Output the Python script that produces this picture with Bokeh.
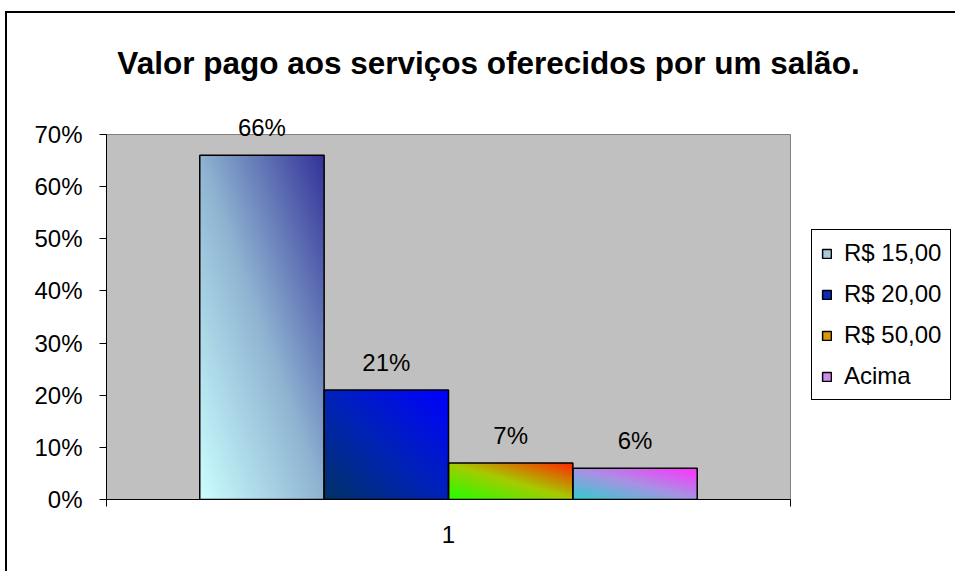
import numpy as np
from bokeh.plotting import figure
from bokeh.core.properties import value
from bokeh.models import (ColumnDataSource, Range1d, FixedTicker, NumeralTickFormatter,
                          Label, LabelSet, Legend, LegendItem)
from bokeh.embed import file_html
from bokeh.resources import INLINE

# ---- data ----
title_text = "Valor pago aos serviços oferecidos por um salão."
categories = ["R$ 15,00", "R$ 20,00", "R$ 50,00", "Acima"]
values = [0.66, 0.21, 0.07, 0.06]
value_labels = ["66%", "21%", "7%", "6%"]
x_tick_label = "1"
y_ticks = [0.0, 0.1, 0.2, 0.3, 0.4, 0.5, 0.6, 0.7]
y_max = 0.7

# gradient stops, from bottom-left corner to top-right corner of each bar
gradients = [
    ["#ccffff", "#8fb4d2", "#333399"],
    ["#003366", "#0022bb", "#0000ff"],
    ["#22ff00", "#a6cc00", "#ff2a00"],
    ["#33cccc", "#a892e4", "#ff33ff"],
]
legend_colors = ["#a9c8dc", "#0a2ab8", "#d99a00", "#d08ae8"]

FONT = "Liberation Sans"
FS = "24px"

# ---- layout (pixels) ----
W, H = 957, 573
MARGIN_LEFT, MARGIN_TOP = 7, 13
AREA_LEFT, AREA_RIGHT, AREA_TOP, AREA_BOTTOM = 106, 790, 134, 499   # plot-area edges on page
fig_w = W - MARGIN_LEFT
fig_h = H - MARGIN_TOP
b_left = AREA_LEFT - MARGIN_LEFT
b_bottom = H - AREA_BOTTOM
frame_w = fig_w - b_left
frame_h = fig_h - b_bottom
px_x = (AREA_RIGHT - AREA_LEFT) / 1.0
px_y = (AREA_BOTTOM - AREA_TOP) / y_max

p = figure(width=fig_w, height=fig_h, output_backend="svg", toolbar_location=None,
           x_range=Range1d(0, frame_w / px_x), y_range=Range1d(0, frame_h / px_y),
           min_border_left=b_left, min_border_right=0, min_border_top=0,
           min_border_bottom=b_bottom)
p.margin = (MARGIN_TOP, 0, 0, MARGIN_LEFT)
p.styles = {"box-shadow": "-2px -2px 0px 0px black"}
p.background_fill_color = "white"
p.border_fill_color = "white"
p.outline_line_color = None
p.xgrid.visible = False
p.ygrid.visible = False

# plot area
p.quad(left=[0], right=[1], bottom=[0], top=[y_max], fill_color="#c0c0c0",
       line_color="#808080", line_width=1)

# bar geometry: one category, 4 series, gap width 150%
n = len(values)
bar_w = 1.0 / (n + 1.5)
start = 0.75 * bar_w
lefts = [start + i * bar_w for i in range(n)]
rights = [l + bar_w for l in lefts]
centers = [l + bar_w / 2 for l in lefts]


def hex_to_rgb(h):
    h = h.lstrip("#")
    return np.array([int(h[i:i + 2], 16) for i in (0, 2, 4)], dtype=float)


def gradient_image(stops, nx, ny):
    u = np.linspace(0, 1, nx)[None, :]
    v = np.linspace(0, 1, ny)[:, None]
    t = (u + v) / 2.0
    cols = np.array([hex_to_rgb(s) for s in stops])
    pos = np.linspace(0, 1, len(stops))
    rgb = np.zeros((ny, nx, 3))
    for c in range(3):
        rgb[..., c] = np.interp(t, pos, cols[:, c])
    img = np.empty((ny, nx), dtype=np.uint32)
    view = img.view(dtype=np.uint8).reshape((ny, nx, 4))
    view[..., 0] = rgb[..., 0].astype(np.uint8)
    view[..., 1] = rgb[..., 1].astype(np.uint8)
    view[..., 2] = rgb[..., 2].astype(np.uint8)
    view[..., 3] = 255
    return img


for i in range(n):
    ny = max(8, int(values[i] * px_y))
    img = gradient_image(gradients[i], int(bar_w * px_x), ny)
    p.image_rgba(image=[img], x=lefts[i], y=0, dw=bar_w, dh=values[i])

src = ColumnDataSource(dict(left=lefts, right=rights, top=values, bottom=[0] * n,
                            x=centers, lab=value_labels))
p.quad(left="left", right="right", top="top", bottom="bottom", source=src,
       fill_color=None, line_color="black", line_width=1.5)

labels = LabelSet(x="x", y="top", text="lab", source=src, text_align="center",
                  text_baseline="alphabetic", y_offset=19, text_font=value(FONT),
                  text_font_size=FS, text_color="black")
p.add_layout(labels)

# legend with proxy renderers (not drawn in the plot: NaN coordinates)
items = []
for i in range(n):
    r = p.quad(left=[np.nan], right=[np.nan], top=[np.nan], bottom=[np.nan],
               fill_color=legend_colors[i], line_color="black", line_width=1.5)
    items.append(LegendItem(label=categories[i], renderers=[r]))
legend = Legend(items=items, location=(811 - AREA_LEFT, AREA_BOTTOM - 400),
                border_line_color="black", border_line_width=1.5, border_line_alpha=1,
                background_fill_color="white", background_fill_alpha=1,
                label_text_font=FONT, label_text_font_size=FS, label_text_color="black",
                glyph_width=11, glyph_height=11, label_standoff=12, padding=9,
                spacing=13, margin=0, label_height=20)
p.add_layout(legend, "center")

# title
p.add_layout(Label(x=(488 - AREA_LEFT) / px_x, y=(AREA_BOTTOM - 62) / px_y, text=title_text,
                   text_align="center", text_baseline="alphabetic", text_font=FONT,
                   text_font_style="bold", text_font_size="31.5px", text_color="black"))

# axes
p.yaxis.ticker = FixedTicker(ticks=y_ticks)
p.yaxis.formatter = NumeralTickFormatter(format="0%")
p.yaxis.bounds = (0, y_max)
p.yaxis.major_label_text_font = FONT
p.yaxis.major_label_text_font_size = FS
p.yaxis.major_label_text_color = "black"
p.yaxis.major_tick_out = 7
p.yaxis.major_tick_in = 0
p.yaxis.minor_tick_out = 0
p.yaxis.minor_tick_in = 0
p.yaxis.axis_line_color = "black"
p.yaxis.major_tick_line_color = "black"
p.yaxis.major_label_standoff = 17

p.xaxis.ticker = FixedTicker(ticks=[0.5], minor_ticks=[0.0, 1.0])
p.xaxis.bounds = (0, 1)
p.xaxis.major_label_overrides = {0.5: x_tick_label}
p.xaxis.major_label_text_font = FONT
p.xaxis.major_label_text_font_size = FS
p.xaxis.major_label_text_color = "black"
p.xaxis.major_tick_out = 0
p.xaxis.major_tick_in = 0
p.xaxis.minor_tick_out = 7
p.xaxis.minor_tick_in = 0
p.xaxis.minor_tick_line_color = "black"
p.xaxis.axis_line_color = "black"
p.xaxis.major_label_standoff = 19

open("out.html", "w").write(file_html(p, INLINE))
